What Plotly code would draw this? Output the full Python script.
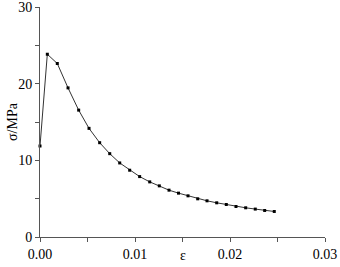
import plotly.graph_objects as go

strain = [0.0, 0.00077, 0.00182, 0.00295, 0.00407, 0.00516, 0.00628, 0.00734, 0.00839,
          0.00944, 0.01049, 0.01155, 0.01256, 0.01358, 0.01458, 0.01558, 0.0166, 0.01758,
          0.0186, 0.01961, 0.02063, 0.02165, 0.02266, 0.02365, 0.02466]
stress = [11.87, 23.84, 22.63, 19.45, 16.55, 14.17, 12.30, 10.87, 9.66,
          8.71, 7.88, 7.19, 6.67, 6.11, 5.72, 5.37, 4.98, 4.72,
          4.46, 4.24, 3.98, 3.81, 3.64, 3.46, 3.33]

x_ticks = [0, 0.005, 0.01, 0.015, 0.02, 0.025, 0.03]
x_labels = ["0.00", "", "0.01", "", "0.02", "", "0.03"]
y_ticks = [0, 5, 10, 15, 20, 25, 30]
y_labels = ["0", "", "10", "", "20", "", "30"]
x_title = "ε"
y_title = "σ/MPa"

font = "Times New Roman, Liberation Serif, serif"

fig = go.Figure()
fig.add_trace(go.Scatter(
    x=strain, y=stress, mode="lines+markers",
    line=dict(color="#333333", width=1),
    marker=dict(symbol="square", size=3, color="black"),
    showlegend=False, cliponaxis=False,
))

fig.update_layout(
    width=340, height=267,
    margin=dict(l=40, r=15, t=7, b=30, autoexpand=False),
    paper_bgcolor="white", plot_bgcolor="white",
    font=dict(family=font, size=14, color="black"),
    xaxis=dict(
        range=[0, 0.03], tickvals=x_ticks, ticktext=x_labels,
        showline=True, linecolor="#555555", linewidth=1,
        ticks="outside", ticklen=4, tickcolor="#555555",
        showgrid=False, zeroline=False, automargin=False,
        ticklabeloverflow="allow",
    ),
    yaxis=dict(
        range=[0, 30], tickvals=y_ticks, ticktext=y_labels,
        showline=True, linecolor="#555555", linewidth=1,
        ticks="outside", ticklen=4, tickcolor="#555555",
        showgrid=False, zeroline=False, automargin=False,
        ticklabeloverflow="allow",
    ),
    annotations=[
        dict(text=x_title, xref="paper", yref="paper", x=0.5, y=0,
             yshift=-18, xanchor="center", yanchor="middle", showarrow=False,
             font=dict(size=14)),
        dict(text=y_title, xref="paper", yref="paper", x=0, y=0.5,
             xshift=-28, xanchor="center", yanchor="middle", showarrow=False,
             textangle=-90, font=dict(size=14)),
    ],
)

fig.write_html("out.html", config={"displayModeBar": False},
               post_script="document.body.style.margin='0';document.body.style.overflow='hidden';")
